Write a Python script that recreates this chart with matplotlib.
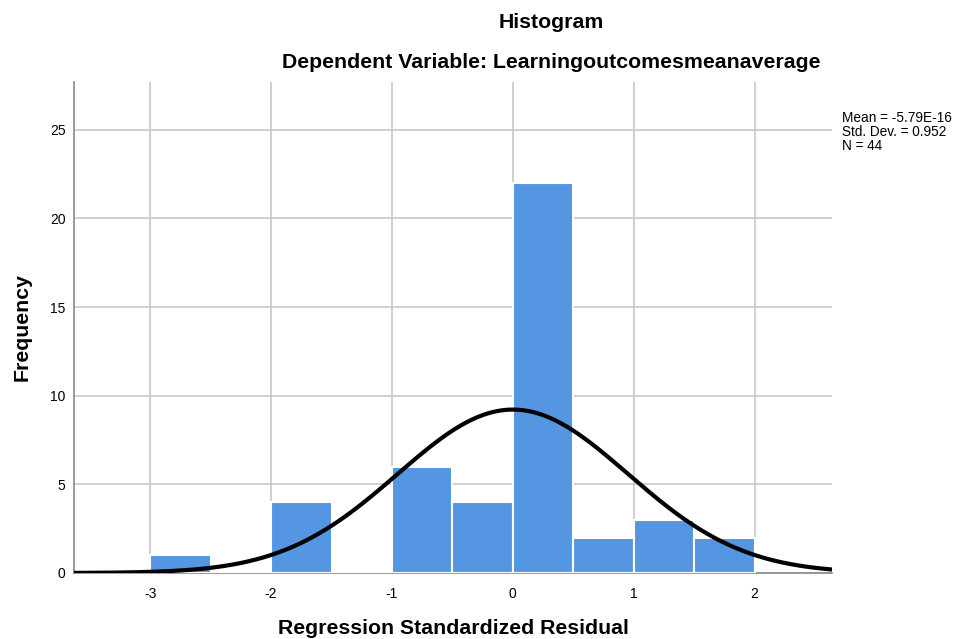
import numpy as np
import matplotlib
matplotlib.use('Agg')
import matplotlib.pyplot as plt

plt.rcParams['font.family'] = ['Liberation Sans', 'DejaVu Sans']
plt.rcParams['axes.unicode_minus'] = False

# histogram bins (Regression Standardized Residual) and counts
bin_edges = [-3.0, -2.5, -2.0, -1.5, -1.0, -0.5, 0.0, 0.5, 1.0, 1.5, 2.0]
counts = [1, 0, 4, 0, 6, 4, 22, 2, 3, 2]
mean = -5.79e-16
std = 0.952
n = 44

fig = plt.figure(figsize=(9.57, 6.39), dpi=100)
ax = fig.add_axes([74 / 957, 1 - 573 / 639, (832 - 74) / 957, (573 - 82) / 639])

lefts = np.array(bin_edges[:-1])
widths = np.diff(bin_edges)
ax.bar(lefts, counts, width=widths, align='edge', color='#5596e3',
       edgecolor='white', linewidth=1.5, zorder=3)

# normal curve scaled to the counts
xs = np.linspace(-3.63, 2.64, 400)
bw = widths[0]
ys = n * bw / (std * np.sqrt(2 * np.pi)) * np.exp(-0.5 * ((xs - mean) / std) ** 2)
ax.plot(xs, ys, color='black', linewidth=3, zorder=4)

ax.set_xlim(-3.63, 2.64)
ax.set_ylim(0, 27.7)
ax.set_xticks([-3, -2, -1, 0, 1, 2])
ax.set_yticks([0, 5, 10, 15, 20, 25])
ax.grid(True, color='#c8c8c8', linewidth=1.2, zorder=0)
ax.set_axisbelow(True)
for s in ['top', 'right']:
    ax.spines[s].set_visible(False)
for s in ['left', 'bottom']:
    ax.spines[s].set_color('#888888')
    ax.spines[s].set_linewidth(1.2)
ax.tick_params(length=0, labelsize=10)
ax.tick_params(axis='x', pad=10)
ax.tick_params(axis='y', pad=6)

fig.text(551 / 957, 1 - 22 / 639, 'Histogram', ha='center', va='center',
         fontsize=15.3, fontweight='bold')
fig.text(551 / 957, 1 - 63 / 639, 'Dependent Variable: Learningoutcomesmeanaverage',
         ha='center', va='center', fontsize=15.3, fontweight='bold')
fig.text(22 / 957, 1 - 327 / 639, 'Frequency', rotation=90, ha='center',
         va='center', fontsize=15.3, fontweight='bold')
fig.text(453 / 957, 1 - 628 / 639, 'Regression Standardized Residual',
         ha='center', va='center', fontsize=15.3, fontweight='bold')
fig.text(842 / 957, 1 - 111 / 639,
         'Mean = -5.79E-16\nStd. Dev. = 0.952\nN = 44',
         ha='left', va='top', fontsize=9.8, linespacing=1.0)

fig.savefig('out.png', dpi=100)
